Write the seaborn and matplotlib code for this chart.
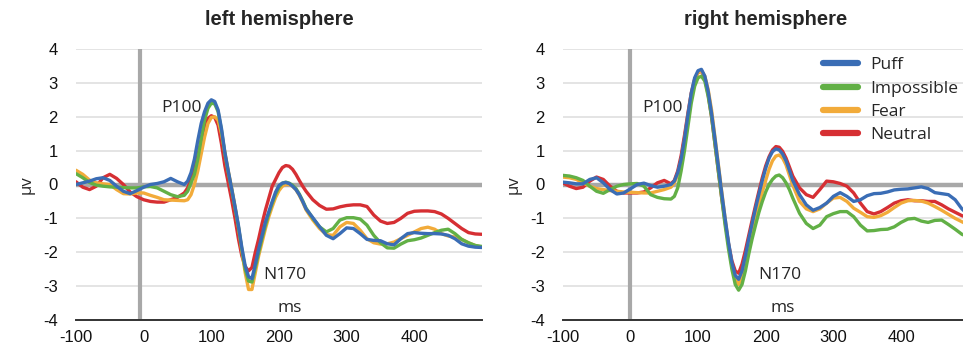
import numpy as np
import pandas as pd
import matplotlib
matplotlib.use("Agg")
import matplotlib.pyplot as plt
from matplotlib.lines import Line2D
import seaborn as sns

# time axis (ms): 10 ms steps, 5 ms around the P100 / N170 / P200 peaks
TIME = list(range(-100, 60, 10)) + list(range(60, 245, 5)) + list(range(250, 510, 10))

CONDITIONS = ["Puff", "Impossible", "Fear", "Neutral"]
COLORS = {"Puff": "#3a6db5", "Impossible": "#62b046", "Fear": "#f2ab3a", "Neutral": "#d62f33"}

# left hemisphere (µV)
left_puff = [0.0, 0.05, 0.1, 0.17, 0.2, 0.12, -0.05, -0.2, -0.27, -0.18, -0.08, 0.0, 0.03, 0.08, 0.18, 0.08,
             0.0, 0.1, 0.35, 0.75, 1.3, 1.8, 2.15, 2.4, 2.5, 2.45, 2.2, 1.65, 0.95, 0.4, -0.12, -0.65,
             -1.2, -1.85, -2.4, -2.72, -2.78, -2.35, -1.9, -1.5, -1.1, -0.8, -0.5, -0.22, -0.03, 0.04,
             0.06, 0.03, -0.05, -0.15, -0.3, -0.5, -0.72,
             -0.98, -1.25, -1.5, -1.6, -1.45, -1.28, -1.3, -1.45, -1.62, -1.65, -1.66, -1.75, -1.78,
             -1.6, -1.45, -1.42, -1.44, -1.45, -1.45, -1.46, -1.5, -1.6, -1.75, -1.82, -1.85, -1.86]
left_impossible = [0.32, 0.2, 0.06, -0.02, -0.05, -0.07, -0.08, -0.09, -0.1, -0.1, -0.07, -0.06, -0.1, -0.2, -0.3, -0.36,
                   -0.32, -0.2, 0.05, 0.3, 0.75, 1.35, 1.9, 2.25, 2.4, 2.38, 2.15, 1.6, 0.9, 0.35, -0.15, -0.7,
                   -1.25, -1.9, -2.5, -2.85, -2.88, -2.45, -2.0, -1.58, -1.2, -0.85, -0.55, -0.28, -0.08, 0.04,
                   0.07, 0.04, -0.02, -0.12, -0.28, -0.48, -0.7,
                   -1.0, -1.25, -1.4, -1.3, -1.05, -0.98, -0.98, -1.02, -1.2, -1.5, -1.72, -1.87, -1.88,
                   -1.76, -1.66, -1.63, -1.58, -1.5, -1.42, -1.35, -1.32, -1.45, -1.62, -1.72, -1.8, -1.83]
left_fear = [0.42, 0.3, 0.13, 0.05, 0.02, 0.0, -0.15, -0.27, -0.28, -0.25, -0.25, -0.32, -0.38, -0.45, -0.46, -0.47,
             -0.48, -0.45, -0.3, 0.0, 0.4, 0.9, 1.4, 1.8, 1.98, 2.0, 1.9, 1.5, 0.95, 0.4, -0.1, -0.65,
             -1.25, -1.95, -2.6, -3.1, -3.1, -2.6, -2.1, -1.7, -1.3, -0.95, -0.65, -0.38, -0.18, -0.05,
             0.0, 0.0, -0.05, -0.15, -0.32, -0.52, -0.75,
             -1.05, -1.3, -1.48, -1.5, -1.25, -1.12, -1.15, -1.35, -1.6, -1.72, -1.76, -1.75, -1.7,
             -1.6, -1.5, -1.4, -1.3, -1.26, -1.32, -1.45, -1.52, -1.55, -1.62, -1.72, -1.8, -1.85]
left_neutral = [0.08, -0.08, -0.15, -0.05, 0.2, 0.3, 0.18, 0.0, -0.22, -0.36, -0.45, -0.5, -0.52, -0.52, -0.45, -0.38,
                -0.25, -0.1, 0.15, 0.45, 0.85, 1.3, 1.7, 1.95, 2.03, 1.98, 1.75, 1.2, 0.55, 0.05, -0.45, -1.0,
                -1.6, -2.1, -2.42, -2.55, -2.45, -2.0, -1.6, -1.15, -0.75, -0.4, -0.05, 0.15, 0.35, 0.5,
                0.56, 0.54, 0.45, 0.3, 0.12, -0.05, -0.2,
                -0.45, -0.62, -0.73, -0.72, -0.66, -0.62, -0.6, -0.6, -0.65, -0.9, -1.08, -1.15, -1.12,
                -1.0, -0.85, -0.79, -0.78, -0.78, -0.8, -0.87, -1.0, -1.15, -1.3, -1.42, -1.46, -1.47]

# right hemisphere (µV)
right_puff = [0.07, 0.05, 0.02, 0.02, 0.15, 0.2, 0.05, -0.15, -0.28, -0.25, -0.13, 0.0, 0.04, -0.03, -0.08, -0.05,
              0.0, 0.1, 0.35, 0.75, 1.35, 2.05, 2.7, 3.15, 3.36, 3.4, 3.2, 2.75, 2.1, 1.35, 0.55, -0.25,
              -1.0, -1.7, -2.3, -2.68, -2.8, -2.55, -2.1, -1.6, -1.15, -0.7, -0.28, 0.12, 0.48, 0.78,
              0.97, 1.05, 1.02, 0.9, 0.7, 0.42, 0.12,
              -0.3, -0.6, -0.76, -0.68, -0.55, -0.35, -0.24, -0.35, -0.5, -0.45, -0.33, -0.27, -0.26,
              -0.22, -0.16, -0.14, -0.13, -0.1, -0.07, -0.12, -0.24, -0.27, -0.3, -0.45, -0.72, -0.9]
right_impossible = [0.27, 0.25, 0.2, 0.12, -0.05, -0.2, -0.26, -0.15, -0.05, 0.0, 0.02, 0.03, -0.05, -0.3, -0.38, -0.42,
                    -0.43, -0.35, -0.1, 0.4, 1.0, 1.7, 2.4, 2.9, 3.15, 3.2, 3.05, 2.6, 2.0, 1.2, 0.4, -0.4,
                    -1.2, -1.9, -2.5, -2.95, -3.12, -2.95, -2.55, -2.05, -1.6, -1.2, -0.82, -0.5, -0.22, 0.0,
                    0.15, 0.25, 0.28, 0.2, 0.05, -0.15, -0.4,
                    -0.85, -1.15, -1.3, -1.2, -0.95, -0.86, -0.8, -0.8, -0.95, -1.2, -1.37, -1.36, -1.33,
                    -1.32, -1.25, -1.12, -1.02, -1.0, -1.08, -1.12, -1.06, -1.05, -1.18, -1.32, -1.47, -1.55]
right_fear = [0.22, 0.2, 0.15, 0.05, -0.05, -0.12, -0.15, -0.18, -0.2, -0.22, -0.23, -0.24, -0.25, -0.25, -0.2, -0.15,
              -0.08, 0.05, 0.3, 0.7, 1.3, 2.0, 2.65, 3.1, 3.3, 3.35, 3.2, 2.8, 2.2, 1.4, 0.6, -0.2,
              -1.0, -1.75, -2.4, -2.8, -2.95, -2.75, -2.35, -1.9, -1.45, -1.0, -0.6, -0.22, 0.12, 0.45,
              0.7, 0.84, 0.87, 0.78, 0.58, 0.28, -0.02,
              -0.5, -0.72, -0.8, -0.72, -0.55, -0.4, -0.38, -0.5, -0.7, -0.82, -0.95, -0.97, -0.92,
              -0.82, -0.68, -0.55, -0.48, -0.47, -0.49, -0.55, -0.65, -0.76, -0.88, -1.0, -1.1, -1.2]
right_neutral = [0.05, -0.05, -0.12, -0.08, 0.1, 0.22, 0.15, -0.05, -0.2, -0.25, -0.25, -0.25, -0.22, -0.1, 0.05, 0.12,
                 0.02, 0.12, 0.4, 0.85, 1.45, 2.1, 2.7, 3.1, 3.3, 3.35, 3.15, 2.65, 2.0, 1.2, 0.4, -0.4,
                 -1.1, -1.75, -2.25, -2.55, -2.62, -2.35, -1.95, -1.5, -1.05, -0.62, -0.2, 0.2, 0.55, 0.82,
                 1.02, 1.12, 1.1, 0.98, 0.78, 0.52, 0.25,
                 -0.1, -0.3, -0.38, -0.15, 0.1, 0.08, 0.03, -0.05, -0.25, -0.55, -0.8, -0.87, -0.8,
                 -0.68, -0.55, -0.48, -0.45, -0.48, -0.48, -0.5, -0.5, -0.6, -0.72, -0.82, -0.92, -0.98]

X_TICKS = [-100, 0, 100, 200, 300, 400]
Y_TICKS = [-4, -3, -2, -1, 0, 1, 2, 3, 4]

rows = []
for hemi, series in [("left", [left_puff, left_impossible, left_fear, left_neutral]),
                     ("right", [right_puff, right_impossible, right_fear, right_neutral])]:
    for cond, vals in zip(CONDITIONS, series):
        assert len(vals) == len(TIME), (hemi, cond, len(vals))
        for t, v in zip(TIME, vals):
            rows.append((hemi, cond, t, v))
df = pd.DataFrame(rows, columns=["hemisphere", "condition", "ms", "uv"])

sns.set_theme(style="white")
plt.rcParams["font.family"] = ["Liberation Sans", "DejaVu Sans"]
plt.rcParams["axes.unicode_minus"] = False
ANNOT_FONT = ["Open Sans", "DejaVu Sans"]

fig = plt.figure(figsize=(9.63, 3.52), dpi=100)
ax_w = 406 / 963
ax_h = (320 - 49) / 352
axes = [fig.add_axes([76 / 963, 1 - 320 / 352, ax_w, ax_h]),
        fig.add_axes([562.7 / 963, 1 - 320 / 352, ax_w, ax_h])]

settings = {
    "left": dict(title="left hemisphere", vline=-6, p100=(56, 2.26), n170=(209, -2.67), ms=(216, -3.64)),
    "right": dict(title="right hemisphere", vline=0, p100=(48, 2.26), n170=(221, -2.67), ms=(225, -3.64)),
}

for ax, hemi in zip(axes, ["left", "right"]):
    s = settings[hemi]
    for y in Y_TICKS[1:]:
        if y != 0:
            ax.axhline(y, color="#dcdcdc", lw=1.1, zorder=0)
    ax.axhline(0, color="#a8a8a8", lw=3.2, zorder=1)
    ax.axvline(s["vline"], color="#a8a8a8", lw=3.0, zorder=1)
    sns.lineplot(data=df[df.hemisphere == hemi], x="ms", y="uv", hue="condition",
                 hue_order=CONDITIONS[::-1], palette=COLORS, lw=2.4, ax=ax,
                 legend=False, zorder=3, solid_joinstyle="round", solid_capstyle="round")
    ax.set_xlim(-100, 500)
    ax.set_ylim(-4, 4)
    ax.set_xticks(X_TICKS)
    ax.set_yticks(Y_TICKS)
    ax.tick_params(axis="both", length=0, labelsize=12, colors="#111111")
    ax.tick_params(axis="x", pad=7)
    ax.tick_params(axis="y", pad=13)
    for sp in ["top", "right", "left"]:
        ax.spines[sp].set_visible(False)
    ax.spines["bottom"].set_color("#333333")
    ax.spines["bottom"].set_linewidth(1.4)
    ax.set_xlabel("")
    ax.set_ylabel("µv", fontsize=12, labelpad=6, family=ANNOT_FONT)
    ax.set_title(s["title"], fontsize=14.5, fontweight="bold", pad=17)
    ax.text(*s["p100"], "P100", ha="center", va="center", fontsize=12.5, family=ANNOT_FONT)
    ax.text(*s["n170"], "N170", ha="center", va="center", fontsize=12.5, family=ANNOT_FONT)
    ax.text(*s["ms"], "ms", ha="center", va="center", fontsize=12.5, family=ANNOT_FONT)

handles = [Line2D([0], [0], color=COLORS[c], lw=4.5) for c in CONDITIONS]
fig.legend(handles, CONDITIONS, loc="upper left", bbox_to_anchor=(823 / 963, 1 - 57 / 352),
           frameon=False, handlelength=2.0, handletextpad=0.75,
           labelspacing=0.42, borderpad=0, borderaxespad=0, prop={"family": ANNOT_FONT, "size": 12.5})

fig.savefig("out.png", dpi=100)
